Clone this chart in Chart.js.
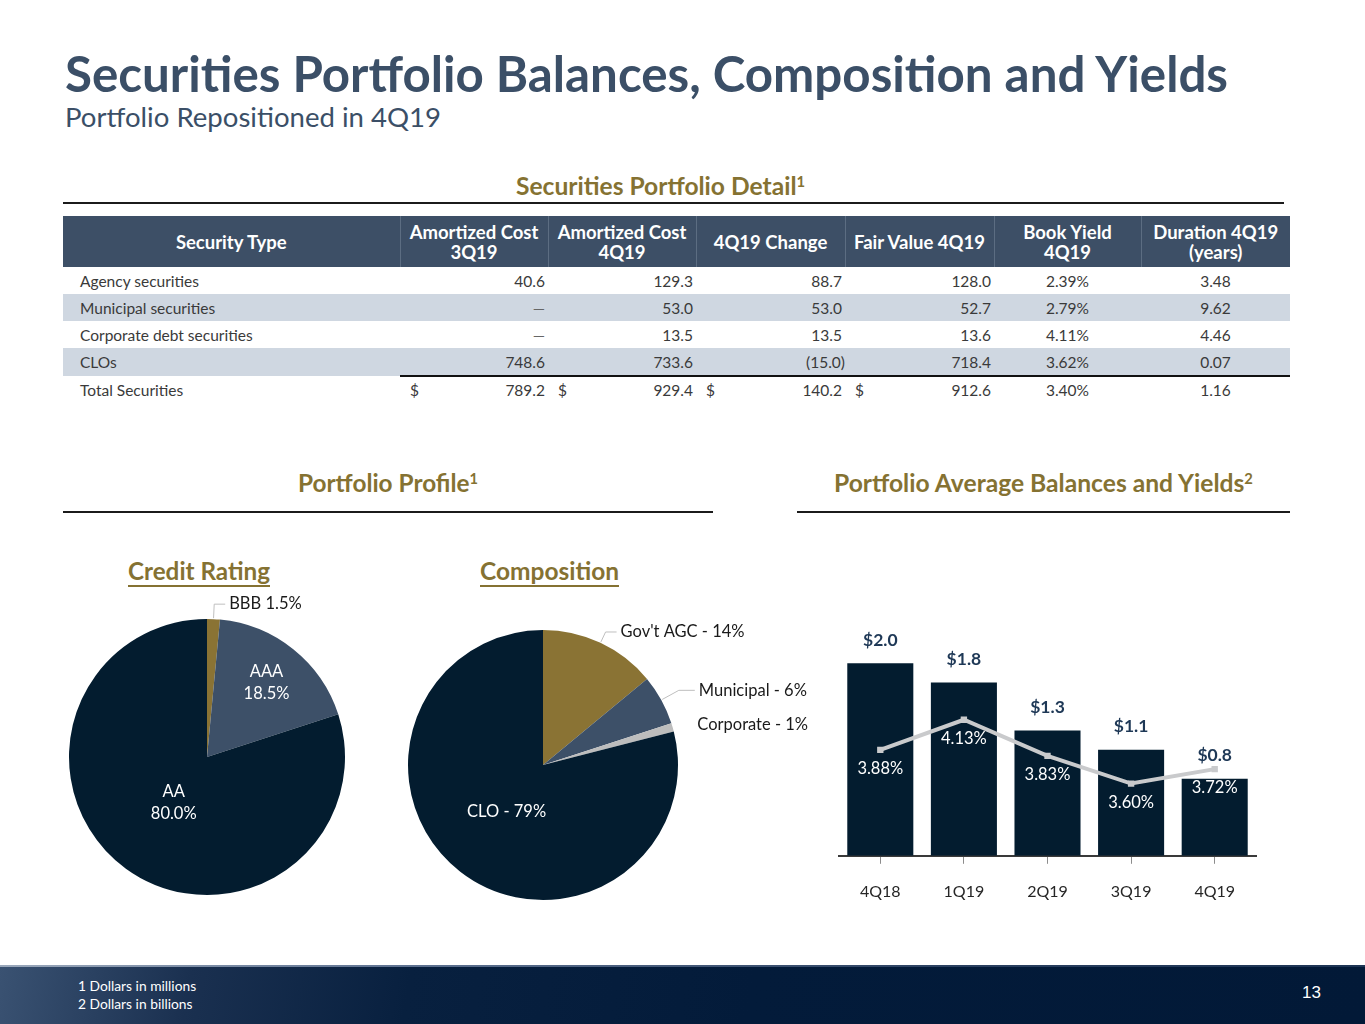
<!DOCTYPE html>
<html>
<head>
<meta charset="utf-8">
<script src="https://cdn.jsdelivr.net/npm/chart.js@4.4.1/dist/chart.umd.min.js"></script>
<style>
  html,body{margin:0;padding:0;}
  body{width:1365px;height:1024px;position:relative;background:#fff;overflow:hidden;font-family:Lato,"Noto Sans",sans-serif;}
  .fit{position:absolute;white-space:nowrap;line-height:1;}
  .sup{position:relative;top:-0.55em;font-size:0.6em;}
  .rule{position:absolute;height:2px;background:#1b1b1b;}
  #tbl{position:absolute;left:63px;top:216px;width:1227px;border-collapse:collapse;table-layout:fixed;}
  #tbl th{background:#3d4f66;color:#fff;font-weight:700;font-size:18.5px;line-height:20px;height:51px;padding:0;text-align:center;border-left:1px solid #5c6d82;white-space:nowrap;}
  #tbl th:first-child{border-left:none;}
  #tbl td{font-size:15.5px;line-height:18px;color:#3a3a3a;height:27px;padding:0;white-space:nowrap;}
  #tbl tr.shade td{background:#cfd7e1;}
  #tbl td.name{padding-left:17px;}
  #tbl td.num{text-align:right;padding-right:3px;}
  #tbl td.ctr{text-align:center;}
  #tbl tr.total td{height:26px;}
  #tbl tr.total td.b{border-top:2px solid #111;}
  .cellflex{display:flex;justify-content:space-between;padding-left:10px;}
  .chartbox{position:absolute;}
  #footer{position:absolute;left:0;top:965px;width:1365px;height:59px;
    background:linear-gradient(100deg,#3a5272 0%,#1a3050 14%,#08203f 30%,#031b3a 55%,#021937 100%);}
  #footer .hl{position:absolute;left:0;top:0;width:100%;height:2px;background:linear-gradient(90deg,#9aa8bb 0%,#5d7190 30%,#2a4060 70%,#1d3454 100%);}
  .fn{position:absolute;color:#fff;font-size:13.8px;line-height:1;}
</style>
</head>
<body>

<div id="title" class="fit" style="font-size:44px;font-weight:700;color:#3b4f67;">Securities Portfolio Balances, Composition and Yields</div>
<div id="subtitle" class="fit" style="font-size:24px;color:#3b4f67;">Portfolio Repositioned in 4Q19</div>

<div id="hDetail" class="fit" style="font-size:20px;font-weight:700;color:#857232;">Securities Portfolio Detail<span class="sup">1</span></div>
<div class="rule" style="left:63px;top:202px;width:1221px;"></div>

<table id="tbl"></table>

<div id="hProfile" class="fit" style="font-size:20px;font-weight:700;color:#857232;">Portfolio Profile<span class="sup">1</span></div>
<div id="hAvg" class="fit" style="font-size:20px;font-weight:700;color:#857232;">Portfolio Average Balances and Yields<span class="sup">2</span></div>
<div class="rule" style="left:63px;top:511px;width:650px;height:1.5px;"></div>
<div class="rule" style="left:797px;top:511px;width:493px;height:1.5px;"></div>

<div id="hCredit" class="fit" style="font-size:22px;font-weight:700;color:#857232;">Credit Rating</div>
<div id="hComp" class="fit" style="font-size:22px;font-weight:700;color:#857232;">Composition</div>

<div class="chartbox" style="left:40px;top:580px;width:360px;height:340px;"><canvas id="pie1" width="360" height="340"></canvas></div>
<div class="chartbox" style="left:390px;top:600px;width:440px;height:320px;"><canvas id="pie2" width="440" height="320"></canvas></div>
<div class="chartbox" style="left:834px;top:600px;width:427px;height:330px;"><canvas id="bars" width="427" height="330"></canvas></div>

<div id="footer"><div class="hl"></div></div>
<div class="fn" style="left:78px;top:979px;">1 Dollars in millions</div>
<div class="fn" style="left:78px;top:997px;">2 Dollars in billions</div>
<div class="fn" style="left:1302px;top:984px;font-size:17px;font-family:'Liberation Sans',Arial,sans-serif;">13</div>

<script>
// ---------------- DATA ----------------
const securityTypes   = ['Agency securities','Municipal securities','Corporate debt securities','CLOs','Total Securities'];
const amortCost3Q19   = [40.6, null, null, 748.6, 789.2];
const amortCost4Q19   = [129.3, 53.0, 13.5, 733.6, 929.4];
const change4Q19      = [88.7, 53.0, 13.5, -15.0, 140.2];
const fairValue4Q19   = [128.0, 52.7, 13.6, 718.4, 912.6];
const bookYield4Q19   = [2.39, 2.79, 4.11, 3.62, 3.40];
const duration4Q19    = [3.48, 9.62, 4.46, 0.07, 1.16];

const ratingLabels = ['BBB','AAA','AA'];
const ratingValues = [1.5, 18.5, 80.0];

const compLabels = ["Gov't AGC",'Municipal','Corporate','CLO'];
const compValues = [14, 6, 1, 79];

const quarters    = ['4Q18','1Q19','2Q19','3Q19','4Q19'];
const avgBalances = [2.0, 1.8, 1.3, 1.1, 0.8];
const avgYields   = [3.88, 4.13, 3.83, 3.60, 3.72];

// ---------------- COLORS ----------------
const NAVY='#031c2f', SLATE='#3d5068', GOLD='#8a7334', LGRAY='#bdbdbd', LINEGRAY='#c9cacc';
const FONT='Lato, "Noto Sans", sans-serif';

// ---------------- TABLE ----------------
(function buildTable(){
  const t=document.getElementById('tbl');
  const widths=[337,148,148,149,149,147,149];
  let h='<colgroup>'+widths.map(w=>'<col style="width:'+w+'px">').join('')+'</colgroup>';
  h+='<tr><th>Security Type</th><th>Amortized Cost<br>3Q19</th><th>Amortized Cost<br>4Q19</th><th>4Q19 Change</th><th>Fair Value 4Q19</th><th>Book Yield<br>4Q19</th><th>Duration 4Q19<br>(years)</th></tr>';
  const fmt=v=>v===null?'<span style="color:#666">—</span>':(v<0?'('+Math.abs(v).toFixed(1)+')':v.toFixed(1));
  securityTypes.forEach((name,i)=>{
    const total=i===securityTypes.length-1;
    const shade=(i===1||i===3);
    const cls=(shade?'shade ':'')+(total?'total':'');
    const neg=v=>v!==null&&v<0;
    const numCell=v=>{
      const pr=neg(v)?'padding-right:0px;':'';
      if(total) return '<td class="b" style="padding:0;"><div class="cellflex" style="padding-right:3px;"><span>$</span><span>'+fmt(v)+'</span></div></td>';
      return '<td class="num" style="'+pr+'">'+fmt(v)+'</td>';
    };
    h+='<tr class="'+cls+'"><td class="name">'+name+'</td>'+
      numCell(amortCost3Q19[i])+numCell(amortCost4Q19[i])+numCell(change4Q19[i])+numCell(fairValue4Q19[i])+
      '<td class="ctr'+(total?' b':'')+'">'+bookYield4Q19[i].toFixed(2)+'%</td>'+
      '<td class="ctr'+(total?' b':'')+'">'+duration4Q19[i].toFixed(2)+'</td></tr>';
  });
  t.innerHTML=h;
})();

// ---------------- TEXT FITTING ----------------
const fitSpecs=[
  ['title',65,1163,74.5],
  ['subtitle',65,376,117.5],
  ['hDetail',516,289,187.5],
  ['hProfile',298,180,484],
  ['hAvg',834,419,484],
  ['hCredit',128,142,571.5],
  ['hComp',480,139,571.5]
];
function fitAll(){
  fitSpecs.forEach(([id,left,w,cy])=>{
    const el=document.getElementById(id);
    let fs=parseFloat(el.style.fontSize);
    for(let k=0;k<3;k++){el.style.fontSize=fs+'px';fs=fs*w/el.getBoundingClientRect().width;}
    el.style.fontSize=fs+'px';
    el.style.left=left+'px';
    el.style.top=(cy-0.53*fs)+'px';
    if(id==='hCredit'||id==='hComp'){
      const u=document.createElement('div');
      u.style.cssText='position:absolute;height:2px;background:#857232;left:'+left+'px;top:585px;width:'+w+'px;';
      document.body.appendChild(u);
    }
  });
}
fitAll();

// ---------------- PIE LABEL PLUGIN ----------------
function pieLabels(cfgs){
  return {
    id:'pieLabels',
    afterDatasetsDraw(chart){
      const ctx=chart.ctx;
      const meta=chart.getDatasetMeta(0);
      meta.data.forEach((arc,i)=>{
        const c=cfgs[i]; if(!c) return;
        const mid=(arc.startAngle+arc.endAngle)/2;
        const R=arc.outerRadius, cx=arc.x, cy=arc.y;
        ctx.save();
        ctx.font='16.5px '+FONT;
        ctx.fillStyle=c.color;
        ctx.textBaseline='middle';
        if(c.type==='in'){
          const x=cx+R*c.frac*Math.cos(mid), y=cy+R*c.frac*Math.sin(mid);
          ctx.textAlign='center';
          const lh=22, n=c.lines.length;
          c.lines.forEach((s,k)=>ctx.fillText(s,x,y+(k-(n-1)/2)*lh));
        } else {
          const ex=cx+(R+c.elbow)*Math.cos(mid), ey=cy+(R+c.elbow)*Math.sin(mid);
          if(c.line){
            ctx.strokeStyle='#bfbfbf';ctx.lineWidth=1;
            ctx.beginPath();
            ctx.moveTo(cx+(R+1)*Math.cos(mid),cy+(R+1)*Math.sin(mid));
            ctx.lineTo(ex,ey);ctx.lineTo(ex+c.hlen,ey);ctx.stroke();
          }
          ctx.textAlign='left';
          ctx.fillText(c.lines[0],ex+c.hlen+4,ey);
        }
        ctx.restore();
      });
    }
  };
}

Chart.defaults.font.family=FONT;
Chart.defaults.animation=false;

new Chart(document.getElementById('pie1'),{
  type:'pie',
  data:{labels:ratingLabels,datasets:[{data:ratingValues,backgroundColor:[GOLD,SLATE,NAVY],borderWidth:0}]},
  options:{responsive:false,animation:false,
    layout:{padding:{left:29,top:39,right:55,bottom:25}},
    plugins:{legend:{display:false},tooltip:{enabled:false}}},
  plugins:[pieLabels([
    {type:'out',elbow:15,hlen:11,line:true,color:'#1a1a1a',lines:[ratingLabels[0]+' '+ratingValues[0].toFixed(1)+'%']},
    {type:'in',frac:0.69,color:'#fff',lines:[ratingLabels[1],ratingValues[1].toFixed(1)+'%']},
    {type:'in',frac:0.41,color:'#fff',lines:[ratingLabels[2],ratingValues[2].toFixed(1)+'%']}
  ])]
});

new Chart(document.getElementById('pie2'),{
  type:'pie',
  data:{labels:compLabels,datasets:[{data:compValues,backgroundColor:[GOLD,SLATE,LGRAY,NAVY],borderWidth:0}]},
  options:{responsive:false,animation:false,
    layout:{padding:{left:18,top:30,right:152,bottom:20}},
    plugins:{legend:{display:false},tooltip:{enabled:false}}},
  plugins:[pieLabels([
    {type:'out',elbow:12,hlen:11,line:true,color:'#1a1a1a',lines:[compLabels[0]+' - '+compValues[0]+'%']},
    {type:'out',elbow:20,hlen:16,line:true,color:'#1a1a1a',lines:[compLabels[1]+' - '+compValues[1]+'%']},
    {type:'out',elbow:8,hlen:13,line:false,color:'#1a1a1a',lines:[compLabels[2]+' - '+compValues[2]+'%']},
    {type:'in',frac:0.44,color:'#fff',lines:[compLabels[3]+' - '+compValues[3]+'%']}
  ])]
});

// ---------------- BAR + LINE ----------------
const comboLabels={
  id:'comboLabels',
  afterDatasetsDraw(chart){
    const ctx=chart.ctx;
    const bm=chart.getDatasetMeta(0), lm=chart.getDatasetMeta(1);
    ctx.save();
    ctx.textAlign='center';ctx.textBaseline='middle';
    ctx.font='bold 17.5px '+FONT;ctx.fillStyle='#1e3856';
    bm.data.forEach((b,i)=>ctx.fillText('$'+avgBalances[i].toFixed(1),b.x,b.y-23));
    ctx.font='16.5px '+FONT;ctx.fillStyle='#fff';
    lm.data.forEach((p,i)=>ctx.fillText(avgYields[i].toFixed(2)+'%',p.x,p.y+19));
    ctx.restore();
  }
};

new Chart(document.getElementById('bars'),{
  type:'bar',
  data:{labels:quarters,datasets:[
    {type:'bar',data:avgBalances,backgroundColor:NAVY,yAxisID:'y',order:2,barPercentage:0.79,categoryPercentage:1.0},
    {type:'line',data:avgYields,borderColor:LINEGRAY,backgroundColor:LINEGRAY,borderWidth:4,pointStyle:'rect',pointRadius:4.5,pointBorderWidth:0,tension:0,yAxisID:'y2',order:1}
  ]},
  options:{responsive:false,animation:false,
    layout:{padding:{left:0,right:0,top:15,bottom:11}},
    plugins:{legend:{display:false},tooltip:{enabled:false}},
    scales:{
      x:{grid:{display:true,drawOnChartArea:false,drawTicks:true,tickLength:8,color:'#8c8c8c',offset:false},
         border:{display:true,color:'#3a3a3a',width:2},
         ticks:{color:'#262626',font:{size:16},padding:18}},
      y:{display:false,min:0,max:2.5},
      y2:{display:false,min:3.0,max:5.0,position:'right'}
    }},
  plugins:[comboLabels]
});
</script>
</body>
</html>
